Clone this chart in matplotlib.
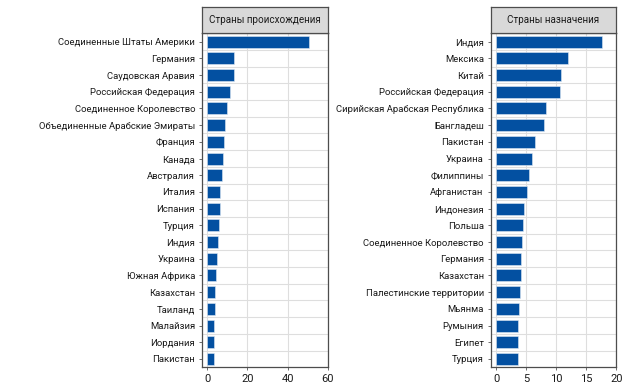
import matplotlib
matplotlib.use("Agg")
import matplotlib.pyplot as plt

plt.rcParams['font.family'] = ['Roboto', 'DejaVu Sans']

origin_countries = ["Соединенные Штаты Америки", "Германия", "Саудовская Аравия",
                    "Российская Федерация", "Соединенное Королевство",
                    "Объединенные Арабские Эмираты", "Франция", "Канада", "Австралия",
                    "Италия", "Испания", "Турция", "Индия", "Украина", "Южная Африка",
                    "Казахстан", "Таиланд", "Малайзия", "Иордания", "Пакистан"]
origin_values = [50.7, 13.3, 13.3, 11.6, 9.8, 8.8, 8.5, 8.1, 7.5, 6.5,
                 6.3, 6.1, 5.3, 5.1, 4.3, 3.8, 3.8, 3.6, 3.5, 3.4]

dest_countries = ["Индия", "Мексика", "Китай", "Российская Федерация",
                  "Сирийская Арабская Республика", "Бангладеш", "Пакистан", "Украина",
                  "Филиппины", "Афганистан", "Индонезия", "Польша",
                  "Соединенное Королевство", "Германия", "Казахстан",
                  "Палестинские территории", "Мьянма", "Румыния", "Египет", "Турция"]
dest_values = [17.6, 11.9, 10.8, 10.6, 8.3, 7.9, 6.4, 5.9, 5.4, 5.2,
               4.6, 4.5, 4.3, 4.1, 4.1, 3.9, 3.8, 3.7, 3.6, 3.6]

titles = ["Страны происхождения", "Страны назначения"]
origin_ticks = [0, 20, 40, 60]
dest_ticks = [0, 5, 10, 15, 20]

W, H = 627, 388
fig = plt.figure(figsize=(W / 100, H / 100), dpi=100)

bar_color = "#0350A1"
grid_color = "#dedede"
edge = "#4d4d4d"
txt = "#1a1a1a"

def panel(x0, x1, cats, vals, ticks, xlim, title):
    top, bot, strip_top = 33.3, 367.3, 7.3
    ax = fig.add_axes([x0 / W, (H - bot) / H, (x1 - x0) / W, (bot - top) / H])
    n = len(cats)
    ypos = list(range(n))
    ax.barh(ypos, vals, height=0.72, color=bar_color, edgecolor="#dfe8f3",
            linewidth=0.4, zorder=3)
    ax.set_ylim(n - 0.5, -0.5)
    ax.set_xlim(*xlim)
    ax.set_yticks(ypos)
    ax.set_yticklabels(cats, fontsize=6.8, color=txt)
    ax.set_xticks(ticks)
    ax.set_xticklabels([str(t) for t in ticks], fontsize=8, color=txt)
    for t in ticks:
        ax.axvline(t, color=grid_color, lw=0.8, zorder=0)
    for i in range(n - 1):
        ax.axhline(i + 0.5, color=grid_color, lw=0.8, zorder=0)
    for s in ax.spines.values():
        s.set_color(edge)
        s.set_linewidth(0.9)
    ax.tick_params(axis='y', length=2.5, width=0.6, color="#555555", pad=2.5)
    ax.tick_params(axis='x', length=2.5, width=0.6, color="#555555", pad=2)
    sax = fig.add_axes([x0 / W, (H - top) / H, (x1 - x0) / W, (top - strip_top) / H])
    sax.set_xticks([]); sax.set_yticks([])
    sax.set_facecolor("#d9d9d9")
    for s in sax.spines.values():
        s.set_color(edge)
        s.set_linewidth(0.9)
    sax.text(0.5, 0.5, title, ha="center", va="center", fontsize=7.1,
             color=txt, transform=sax.transAxes)
    return ax

panel(202, 328, origin_countries, origin_values, origin_ticks, (-2.5, 60), titles[0])
panel(490.7, 616.3, dest_countries, dest_values, dest_ticks, (-0.9, 20), titles[1])

fig.savefig("out.png", dpi=100, facecolor="white")
